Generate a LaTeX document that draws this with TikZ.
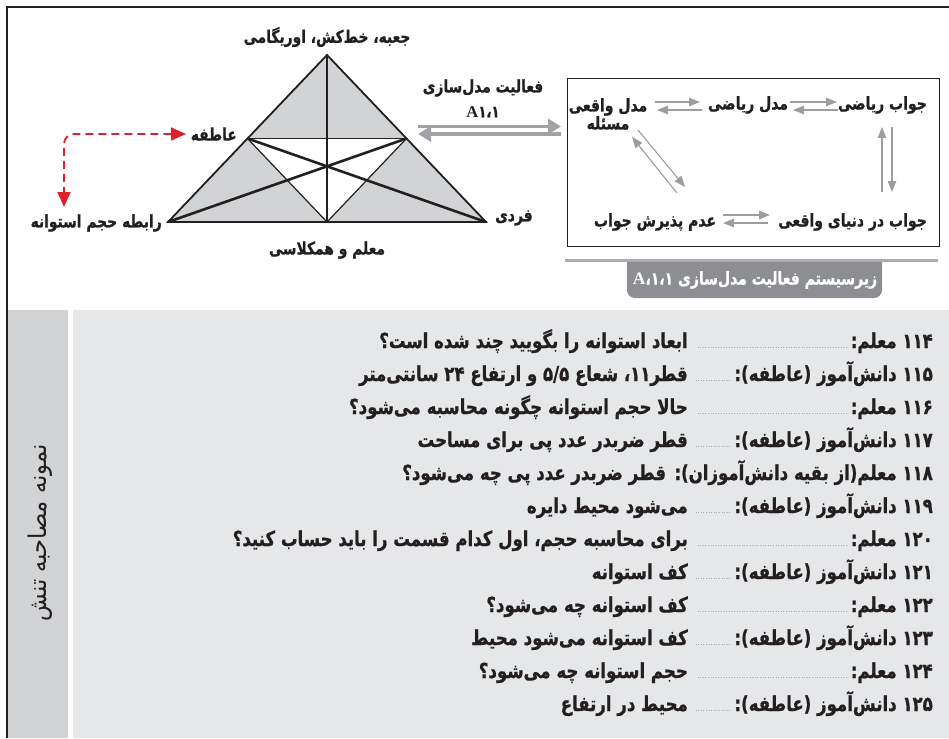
\documentclass[tikz,border=0pt]{standalone}
\usepackage{fontspec}
\setmainfont{DejaVu Sans}
\newfontfamily\fa[Script=Arabic, FakeStretch=0.8, BoldFeatures={FakeBold=0.8}]{DejaVu Sans}
\newfontfamily\faside[Script=Arabic, FakeStretch=0.92]{DejaVu Sans}
\newfontfamily\latserif{Liberation Serif}
\usetikzlibrary{arrows.meta}
\TeXXeTstate=1
\newcommand{\RL}[1]{\beginR #1\endR}
\definecolor{trigray}{RGB}{209,211,212}
\definecolor{arrgray}{RGB}{155,157,160}
\definecolor{dblgray}{RGB}{160,162,165}
\definecolor{redarr}{RGB}{220,35,45}
\definecolor{stripgray}{RGB}{209,211,212}
\definecolor{panelgray}{RGB}{230,231,232}
\definecolor{capgray}{RGB}{140,142,145}
\definecolor{caplinegray}{RGB}{170,172,175}
\definecolor{dotgray}{RGB}{170,170,170}
\definecolor{ink}{RGB}{35,31,32}
\tikzset{
 lbl/.style={font=\fa\bfseries\fontsize{17.3}{20}\selectfont, text=ink, inner sep=1pt},
 boxlbl/.style={font=\fa\bfseries\fontsize{17.5}{18}\selectfont, text=ink, inner sep=1pt, align=center},
 garr/.style={draw=arrgray, line width=1.1pt, -{Triangle[length=11pt,width=8.5pt]}},
 dblarr/.style={draw=dblgray, line width=3.5pt, -{Triangle[length=13pt,width=15pt]}},
 reddash/.style={draw=redarr, line width=1.8pt, dash pattern=on 8pt off 5pt, rounded corners=10pt,
   {Triangle[length=15pt,width=13pt]}-{Triangle[length=15pt,width=13pt]}},
 dlgtxt/.style={font=\fa\bfseries\fontsize{20.7}{23}\selectfont, text=ink, inner sep=0pt},
 leader/.style={draw=dotgray, line width=0.8pt, dash pattern=on 0.8pt off 1.8pt},
 thinl/.style={draw=ink, line width=1.2pt},
 thickl/.style={draw=ink, line width=2.6pt},
}
\newcommand{\dlg}[4]{%
 \node[dlgtxt, anchor=base east] (s#1) at (933,#2) {\RL{#3}};
 \node[dlgtxt, anchor=base east] (u#1) at (688,#2) {\RL{#4}};
 \draw[leader] ([xshift=-4pt,yshift=1pt]s#1.base west) -- ([xshift=8pt,yshift=1pt]u#1.base east);
}
\begin{document}
\begin{tikzpicture}[x=1pt,y=-1pt]
\path[use as bounding box] (0,0) rectangle (949,738);
% bottom panel
\fill[stripgray] (7,310) rectangle (68,738);
\fill[panelgray] (73,310) rectangle (949,738);
% frame
\draw[draw=ink, line width=1.2pt] (7,738) -- (7,7) -- (949,7);

% triangle
\coordinate (T) at (327,55);
\coordinate (L) at (168,222);
\coordinate (Rv) at (486,222);
\coordinate (LM) at (247.5,138.5);
\coordinate (RM) at (406.5,138.5);
\coordinate (BM) at (327,222);
\fill[trigray] (T) -- (L) -- (Rv) -- cycle;
\fill[white] (LM) -- (RM) -- (BM) -- cycle;
\draw[thinl] (LM) -- (RM);
\draw[thinl] (LM) -- (BM);
\draw[thinl] (RM) -- (BM);
\draw[thickl] (T) -- (BM);
\draw[thickl] (L) -- (RM);
\draw[thickl] (Rv) -- (LM);
\draw[draw=ink, line width=1.8pt, line join=miter] (T) -- (L) -- (Rv) -- cycle;

% triangle labels
\node[lbl] (tools) at (327,37) {\RL{جعبه، خط‌کش، اوریگامی}};
\node[lbl, anchor=east] (atefe) at (238,134) {\RL{عاطفه}};
\node[lbl, anchor=east] (rabete) at (163,223) {\RL{رابطه حجم استوانه}};
\node[lbl, anchor=west] (fardi) at (494,218) {\RL{فردی}};
\node[lbl] (moalem) at (327,250) {\RL{معلم و همکلاسی}};
\node[lbl] (faal) at (483,88) {\RL{فعالیت مدل‌سازی}};
\node[font=\bfseries\fontsize{16.5}{18}\selectfont, text=ink, inner sep=1pt] (a11) at (483,112) {\latserif A\fa ۱،۱};

% red dashed arrow
\coordinate (rdA) at (186,134);
\coordinate (rdC) at (64,134);
\coordinate (rdB) at (64,207);
\draw[reddash] (rdA) -- (rdC) -- (rdB);

% double arrow
\coordinate (dL1) at (418,126.5);
\coordinate (dR1) at (561,126.5);
\coordinate (dL2) at (418,134);
\coordinate (dR2) at (561,134);
\draw[dblarr] (dL1) -- (dR1);
\draw[dblarr] (dR2) -- (dL2);

% subsystem box
\draw[draw=ink, line width=0.9pt] (567,78) rectangle (939,246);
\node[boxlbl, anchor=east] (jr) at (928,105) {\RL{جواب ریاضی}};
\node[boxlbl] (mr) at (748,105) {\RL{مدل ریاضی}};
\node[boxlbl] (mv) at (608,114) {\RL{مدل واقعی}\\\RL{مسئله}};
\node[boxlbl, anchor=east] (jd) at (928,222) {\RL{جواب در دنیای واقعی}};
\node[boxlbl] (ap) at (655,222) {\RL{عدم پذیرش جواب}};

\coordinate (p1a) at (655,102); \coordinate (p1b) at (700,102);
\coordinate (p1c) at (702,110); \coordinate (p1d) at (657,110);
\draw[garr] (p1a) -- (p1b);
\draw[garr] (p1c) -- (p1d);
\coordinate (p2a) at (790,102); \coordinate (p2b) at (837,102);
\coordinate (p2c) at (838,110); \coordinate (p2d) at (793,110);
\draw[garr] (p2a) -- (p2b);
\draw[garr] (p2c) -- (p2d);
\coordinate (v1a) at (882,192); \coordinate (v1b) at (882,127);
\coordinate (v2a) at (892,127); \coordinate (v2b) at (892,192);
\draw[garr] (v1a) -- (v1b);
\draw[garr] (v2a) -- (v2b);
\coordinate (g1a) at (638,130); \coordinate (g1b) at (685,187);
\coordinate (g2a) at (677,193); \coordinate (g2b) at (632,137);
\draw[garr] (g1a) -- (g1b);
\draw[garr] (g2a) -- (g2b);
\coordinate (b1a) at (723,215); \coordinate (b1b) at (770,215);
\coordinate (b2a) at (768,223); \coordinate (b2b) at (723,223);
\draw[garr] (b1a) -- (b1b);
\draw[garr] (b2a) -- (b2b);

% caption
\draw[draw=caplinegray, line width=3pt] (565,260) -- (938,260);
\begin{scope}
\clip (600,262.5) rectangle (900,310);
\fill[capgray, rounded corners=8pt] (627,240) rectangle (882,298);
\end{scope}
\node[font=\fa\bfseries\fontsize{17.5}{18}\selectfont, text=white, inner sep=0pt] (cap) at (755,280)
  {\RL{زیرسیستم فعالیت مدل‌سازی \beginL{\latserif A}\kern0pt ،\kern0pt ۱\kern0pt ،\kern0pt ۱\endL}};

% side title
\node[font=\faside\fontsize{24.5}{27}\selectfont, text=ink, rotate=90, inner sep=0pt] (side) at (40,533) {\RL{نمونه مصاحبه تنش}};

% dialogue
\dlg{114}{348}{۱۱۴ معلم:}{ابعاد استوانه را بگویید چند شده است؟}
\dlg{115}{381}{۱۱۵ دانش‌آموز (عاطفه):}{قطر۱۱، شعاع ۵/۵ و ارتفاع ۲۴ سانتی‌متر}
\dlg{116}{414}{۱۱۶ معلم:}{حالا حجم استوانه چگونه محاسبه می‌شود؟}
\dlg{117}{447}{۱۱۷ دانش‌آموز (عاطفه):}{قطر ضربدر عدد پی برای مساحت}
\node[dlgtxt, anchor=base east] (s118) at (933,480) {\RL{۱۱۸ معلم(از بقیه دانش‌آموزان):}};
\node[dlgtxt, anchor=base east] (u118) at ([xshift=-8pt]s118.base west) {\RL{قطر ضربدر عدد پی چه می‌شود؟}};
\dlg{119}{513}{۱۱۹ دانش‌آموز (عاطفه):}{می‌شود محیط دایره}
\dlg{120}{546}{۱۲۰ معلم:}{برای محاسبه حجم، اول کدام قسمت را باید حساب کنید؟}
\dlg{121}{579}{۱۲۱ دانش‌آموز (عاطفه):}{کف استوانه}
\dlg{122}{612}{۱۲۲ معلم:}{کف استوانه چه می‌شود؟}
\dlg{123}{645}{۱۲۳ دانش‌آموز (عاطفه):}{کف استوانه می‌شود محیط}
\dlg{124}{678}{۱۲۴ معلم:}{حجم استوانه چه می‌شود؟}
\dlg{125}{711}{۱۲۵ دانش‌آموز (عاطفه):}{محیط در ارتفاع}
\end{tikzpicture}
\end{document}
